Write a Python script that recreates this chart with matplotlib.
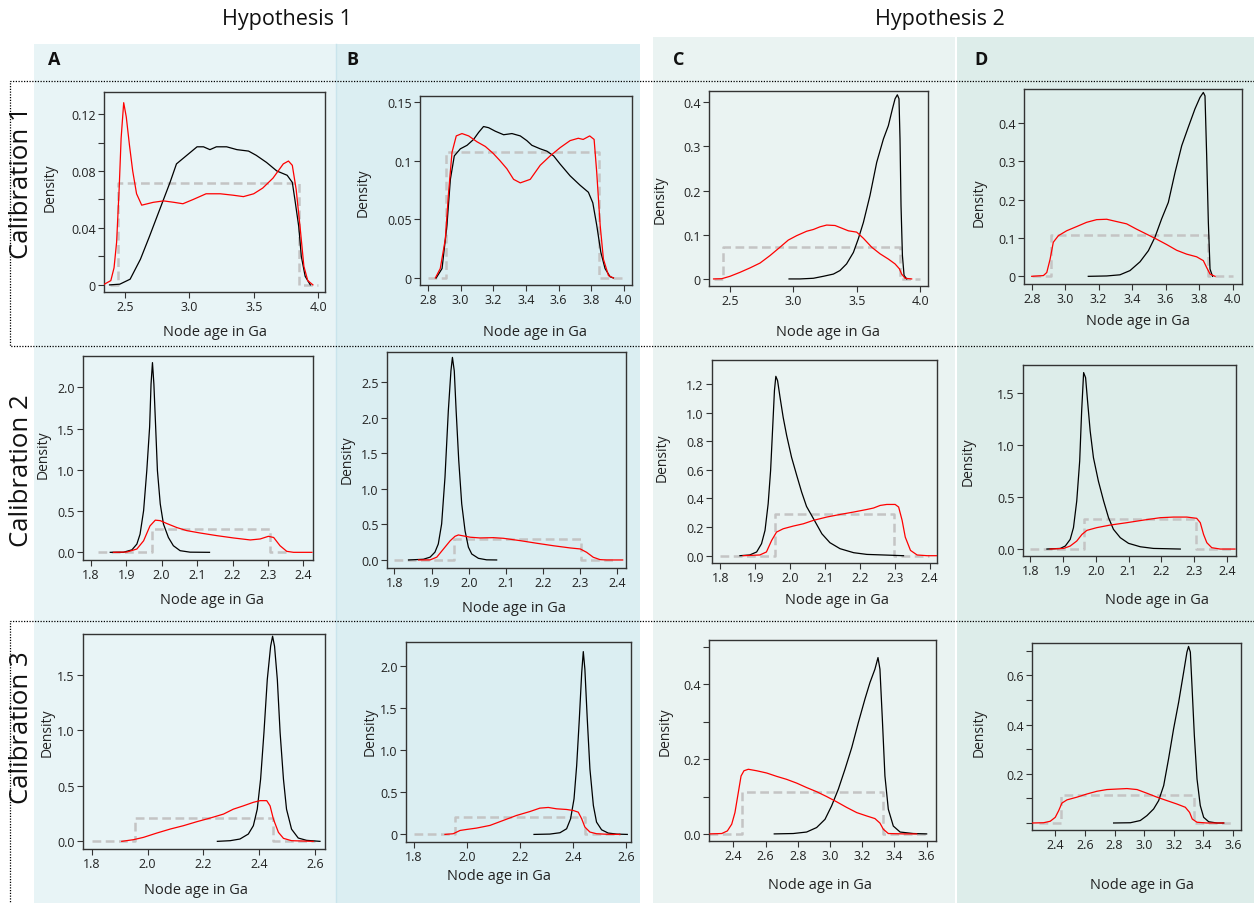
import matplotlib
matplotlib.use('Agg')
import matplotlib.pyplot as plt
from matplotlib.patches import Rectangle
from matplotlib.lines import Line2D

plt.rcParams['font.family'] = ['Open Sans', 'DejaVu Sans']

# ---------------- DATA ----------------
# Row 1 : Calibration 1
a1_black = [(2.38,0),(2.46,0.0005),(2.54,0.004),(2.62,0.018),(2.69,0.034),(2.77,0.053),(2.85,0.072),(2.90,0.085),(2.98,0.091),(3.06,0.097),(3.11,0.097),(3.16,0.095),(3.21,0.097),(3.29,0.097),(3.37,0.095),(3.46,0.094),(3.52,0.091),(3.60,0.086),(3.68,0.080),(3.76,0.077),(3.80,0.072),(3.82,0.060),(3.85,0.041),(3.87,0.020),(3.90,0.006),(3.94,0)]
a1_red = [(2.33,0),(2.39,0.003),(2.415,0.012),(2.435,0.03),(2.455,0.068),(2.47,0.103),(2.49,0.128),(2.51,0.118),(2.535,0.098),(2.56,0.08),(2.59,0.064),(2.63,0.056),(2.72,0.058),(2.80,0.059),(2.88,0.058),(2.95,0.057),(3.03,0.060),(3.13,0.064),(3.24,0.064),(3.34,0.063),(3.42,0.062),(3.50,0.064),(3.57,0.068),(3.65,0.075),(3.73,0.085),(3.77,0.087),(3.80,0.084),(3.83,0.067),(3.86,0.041),(3.89,0.013),(3.92,0.003),(3.96,0)]
a1_gray = [(2.38,0),(2.445,0),(2.445,0.0715),(3.855,0.0715),(3.855,0),(4.0,0)]

b1_black = [(2.85,0),(2.886,0.008),(2.916,0.045),(2.937,0.084),(2.961,0.104),(2.998,0.110),(3.039,0.113),(3.079,0.118),(3.11,0.124),(3.14,0.129),(3.171,0.128),(3.212,0.125),(3.263,0.122),(3.314,0.123),(3.365,0.121),(3.405,0.117),(3.436,0.113),(3.487,0.110),(3.528,0.108),(3.569,0.104),(3.609,0.097),(3.67,0.087),(3.731,0.079),(3.782,0.073),(3.809,0.064),(3.833,0.045),(3.858,0.022),(3.884,0.008),(3.915,0.001),(3.935,0)]
b1_red = [(2.845,0),(2.875,0.008),(2.906,0.033),(2.926,0.073),(2.947,0.107),(2.973,0.121),(3.008,0.123),(3.049,0.121),(3.10,0.116),(3.151,0.112),(3.20,0.106),(3.24,0.100),(3.283,0.093),(3.324,0.084),(3.365,0.081),(3.426,0.084),(3.487,0.096),(3.548,0.104),(3.609,0.111),(3.67,0.117),(3.72,0.119),(3.75,0.118),(3.79,0.121),(3.817,0.118),(3.833,0.090),(3.854,0.045),(3.874,0.016),(3.905,0.002),(3.935,0)]
b1_gray = [(2.8,0),(2.91,0),(2.91,0.107),(3.848,0.107),(3.848,0),(4.0,0)]

c1_black = [(2.966,0),(3.053,0),(3.158,0.0015),(3.237,0.006),(3.316,0.011),(3.368,0.019),(3.42,0.034),(3.474,0.060),(3.513,0.091),(3.553,0.128),(3.605,0.189),(3.658,0.264),(3.711,0.317),(3.75,0.347),(3.782,0.385),(3.803,0.408),(3.821,0.417),(3.834,0.408),(3.842,0.317),(3.85,0.166),(3.861,0.053),(3.874,0.008),(3.895,0)]
c1_red = [(2.37,0),(2.434,0.0005),(2.5,0.006),(2.579,0.015),(2.658,0.025),(2.737,0.036),(2.816,0.053),(2.895,0.072),(2.96,0.088),(3.026,0.098),(3.105,0.108),(3.158,0.112),(3.21,0.118),(3.263,0.122),(3.329,0.121),(3.382,0.115),(3.434,0.109),(3.5,0.106),(3.553,0.092),(3.618,0.072),(3.684,0.057),(3.75,0.045),(3.803,0.034),(3.837,0.023),(3.855,0.011),(3.882,0.0015),(3.934,0)]
c1_gray = [(2.37,0),(2.447,0),(2.447,0.0717),(3.842,0.0717),(3.842,0),(4.0,0)]

d1_black = [(3.138,0),(3.248,0.001),(3.327,0.004),(3.387,0.015),(3.447,0.038),(3.497,0.067),(3.536,0.102),(3.576,0.150),(3.616,0.193),(3.656,0.271),(3.696,0.341),(3.735,0.389),(3.775,0.437),(3.805,0.467),(3.825,0.48),(3.835,0.471),(3.845,0.315),(3.855,0.141),(3.865,0.019),(3.88,0)]
d1_red = [(2.8,0),(2.87,0.002),(2.89,0.01),(2.91,0.045),(2.929,0.089),(2.959,0.106),(3.009,0.119),(3.069,0.130),(3.128,0.141),(3.188,0.148),(3.248,0.149),(3.307,0.143),(3.367,0.137),(3.427,0.123),(3.487,0.110),(3.546,0.097),(3.606,0.083),(3.666,0.068),(3.725,0.058),(3.785,0.051),(3.825,0.041),(3.845,0.023),(3.865,0.006),(3.895,0)]
d1_gray = [(2.8,0),(2.915,0),(2.915,0.109),(3.85,0.109),(3.85,0),(4.0,0)]

# Row 2 : Calibration 2
a2_black = [(1.855,0),(1.892,0.001),(1.916,0.03),(1.93,0.10),(1.939,0.22),(1.949,0.505),(1.958,0.99),(1.966,1.52),(1.970,2.04),(1.974,2.30),(1.978,2.04),(1.983,1.52),(1.988,0.99),(1.996,0.586),(2.005,0.343),(2.019,0.18),(2.033,0.08),(2.052,0.02),(2.08,0.002),(2.135,0)]
a2_red = [(1.864,0),(1.902,0.004),(1.93,0.04),(1.949,0.14),(1.967,0.32),(1.982,0.39),(1.996,0.384),(2.014,0.35),(2.043,0.30),(2.071,0.263),(2.109,0.234),(2.156,0.202),(2.203,0.174),(2.25,0.15),(2.278,0.162),(2.301,0.194),(2.316,0.18),(2.334,0.08),(2.353,0.012),(2.372,0),(2.424,0)]
a2_gray = [(1.819,0),(1.974,0),(1.974,0.283),(2.306,0.283),(2.306,0),(2.363,0)]

b2_black = [(1.838,0),(1.878,0.01),(1.896,0.04),(1.909,0.11),(1.918,0.225),(1.927,0.507),(1.936,1.163),(1.945,2.10),(1.952,2.66),(1.956,2.85),(1.961,2.66),(1.966,2.10),(1.973,1.40),(1.981,0.79),(1.99,0.41),(1.999,0.18),(2.008,0.084),(2.026,0.023),(2.048,0.002),(2.075,0)]
b2_red = [(1.865,0),(1.896,0.001),(1.914,0.04),(1.932,0.155),(1.95,0.27),(1.963,0.333),(1.972,0.352),(1.986,0.338),(2.004,0.32),(2.03,0.31),(2.066,0.314),(2.093,0.305),(2.138,0.272),(2.183,0.235),(2.228,0.20),(2.273,0.169),(2.3,0.155),(2.317,0.108),(2.335,0.038),(2.353,0.005),(2.371,0),(2.414,0)]
b2_gray = [(1.8,0),(1.959,0),(1.959,0.295),(2.301,0.295),(2.301,0),(2.389,0)]

c2_black = [(1.856,0),(1.884,0.005),(1.904,0.026),(1.918,0.084),(1.928,0.177),(1.937,0.363),(1.944,0.595),(1.95,0.898),(1.955,1.153),(1.959,1.253),(1.964,1.223),(1.971,1.107),(1.98,0.967),(1.99,0.84),(2.004,0.688),(2.019,0.56),(2.033,0.444),(2.047,0.344),(2.067,0.258),(2.091,0.153),(2.114,0.091),(2.143,0.049),(2.182,0.021),(2.22,0.009),(2.268,0.005),(2.325,0)]
c2_red = [(1.865,0),(1.913,0.005),(1.932,0.026),(1.947,0.107),(1.961,0.165),(1.98,0.188),(2.009,0.207),(2.038,0.223),(2.067,0.247),(2.105,0.27),(2.143,0.288),(2.182,0.305),(2.22,0.323),(2.239,0.333),(2.258,0.351),(2.277,0.358),(2.301,0.358),(2.311,0.34),(2.321,0.247),(2.33,0.13),(2.345,0.037),(2.364,0.005),(2.393,0),(2.421,0)]
c2_gray = [(1.8,0),(1.956,0),(1.956,0.293),(2.297,0.293),(2.297,0),(2.397,0)]

d2_black = [(1.851,0),(1.892,0.006),(1.907,0.029),(1.922,0.093),(1.932,0.206),(1.942,0.463),(1.951,0.848),(1.957,1.33),(1.963,1.70),(1.969,1.651),(1.975,1.426),(1.983,1.137),(1.993,0.88),(2.008,0.655),(2.024,0.463),(2.039,0.302),(2.054,0.19),(2.075,0.109),(2.1,0.055),(2.136,0.022),(2.176,0.006),(2.258,0)]
d2_red = [(1.861,0),(1.902,0.006),(1.922,0.029),(1.942,0.077),(1.958,0.141),(1.973,0.18),(2.003,0.206),(2.044,0.231),(2.095,0.254),(2.146,0.279),(2.197,0.302),(2.237,0.308),(2.278,0.308),(2.308,0.296),(2.319,0.254),(2.329,0.141),(2.339,0.061),(2.354,0.013),(2.38,0),(2.425,0)]
d2_gray = [(1.8,0),(1.963,0),(1.963,0.292),(2.306,0.292),(2.306,0),(2.42,0)]

# Row 3 : Calibration 3
a3_black = [(2.25,0),(2.296,0.006),(2.331,0.021),(2.361,0.066),(2.379,0.141),(2.393,0.29),(2.405,0.56),(2.417,0.98),(2.429,1.46),(2.441,1.76),(2.448,1.85),(2.455,1.76),(2.465,1.46),(2.475,0.98),(2.487,0.56),(2.498,0.29),(2.516,0.11),(2.54,0.03),(2.57,0.009),(2.618,0)]
a3_red = [(1.907,0),(1.949,0.015),(1.985,0.036),(2.033,0.075),(2.081,0.111),(2.128,0.141),(2.176,0.177),(2.224,0.21),(2.272,0.246),(2.307,0.29),(2.343,0.32),(2.379,0.352),(2.403,0.367),(2.427,0.367),(2.439,0.32),(2.451,0.20),(2.469,0.081),(2.487,0.027),(2.516,0.006),(2.594,0)]
a3_gray = [(1.8,0),(1.955,0),(1.955,0.207),(2.448,0.207),(2.448,0),(2.6,0)]

b3_black = [(2.253,0),(2.313,0.004),(2.351,0.02),(2.376,0.067),(2.391,0.185),(2.404,0.422),(2.414,0.817),(2.424,1.369),(2.433,1.921),(2.439,2.17),(2.445,1.96),(2.454,1.369),(2.464,0.777),(2.477,0.343),(2.489,0.146),(2.508,0.055),(2.533,0.016),(2.565,0.004),(2.605,0)]
b3_red = [(1.917,0),(1.948,0.008),(1.974,0.047),(1.999,0.059),(2.036,0.075),(2.087,0.107),(2.137,0.166),(2.187,0.225),(2.238,0.272),(2.275,0.312),(2.307,0.32),(2.338,0.304),(2.376,0.296),(2.401,0.284),(2.42,0.264),(2.433,0.185),(2.445,0.087),(2.464,0.028),(2.489,0.008),(2.527,0.002),(2.577,0)]
b3_gray = [(1.8,0),(1.955,0),(1.955,0.205),(2.445,0.205),(2.445,0),(2.577,0)]

c3_black = [(2.654,0),(2.772,0.001),(2.855,0.005),(2.917,0.017),(2.969,0.039),(3.01,0.075),(3.052,0.12),(3.093,0.173),(3.135,0.231),(3.176,0.298),(3.217,0.361),(3.248,0.405),(3.279,0.441),(3.298,0.472),(3.31,0.441),(3.325,0.307),(3.341,0.155),(3.362,0.066),(3.393,0.021),(3.435,0.005),(3.517,0.001),(3.6,0)]
c3_red = [(2.255,0),(2.328,0.001),(2.363,0.008),(2.39,0.026),(2.41,0.057),(2.431,0.111),(2.448,0.155),(2.466,0.169),(2.493,0.173),(2.545,0.169),(2.607,0.163),(2.669,0.154),(2.731,0.146),(2.793,0.136),(2.855,0.124),(2.917,0.113),(2.979,0.10),(3.041,0.086),(3.103,0.071),(3.166,0.057),(3.228,0.048),(3.279,0.041),(3.31,0.029),(3.331,0.0125),(3.362,0.001),(3.455,0),(3.538,0)]
c3_gray = [(2.25,0),(2.452,0),(2.452,0.113),(3.331,0.113),(3.331,0),(3.604,0)]

d3_black = [(2.794,0),(2.907,0.001),(2.974,0.01),(3.019,0.03),(3.064,0.057),(3.098,0.091),(3.132,0.152),(3.165,0.261),(3.199,0.383),(3.233,0.491),(3.267,0.614),(3.289,0.695),(3.3,0.718),(3.312,0.695),(3.323,0.559),(3.339,0.356),(3.357,0.179),(3.379,0.071),(3.402,0.023),(3.436,0.005),(3.492,0),(3.537,0)]
d3_red = [(2.242,0),(2.321,0.001),(2.366,0.007),(2.4,0.023),(2.423,0.05),(2.445,0.081),(2.479,0.094),(2.546,0.105),(2.614,0.118),(2.681,0.129),(2.749,0.136),(2.816,0.138),(2.884,0.14),(2.952,0.136),(3.019,0.121),(3.087,0.105),(3.154,0.091),(3.222,0.077),(3.278,0.064),(3.307,0.043),(3.325,0.016),(3.357,0.003),(3.424,0),(3.537,0)]
d3_gray = [(2.287,0),(2.44,0),(2.44,0.115),(3.334,0.115),(3.334,0),(3.6,0)]

# Tick values / labels
xt_r1_a = [2.5, 3.0, 3.5, 4.0]
xt_r1_b = [2.8, 3.0, 3.2, 3.4, 3.6, 3.8, 4.0]
xt_r2 = [1.8, 1.9, 2.0, 2.1, 2.2, 2.3, 2.4]
xt_r3_a = [1.8, 2.0, 2.2, 2.4, 2.6]
xt_r3_c = [2.4, 2.6, 2.8, 3.0, 3.2, 3.4, 3.6]

yt_a1 = [0, 0.04, 0.08, 0.12]; yl_a1 = ['0', '0.04', '0.08', '0.12']; ym_a1 = [0.02, 0.06, 0.10]
yt_b1 = [0, 0.05, 0.1, 0.15]; yl_b1 = ['0', '0.05', '0.1', '0.15']
yt_c1 = [0, 0.1, 0.2, 0.3, 0.4]; yl_c1 = ['0', '0.1', '0.2', '0.3', '0.4']
yt_a2 = [0, 0.5, 1.0, 1.5, 2.0]; yl_a2 = ['0.0', '0.5', '1.0', '1.5', '2.0']
yt_b2 = [0, 0.5, 1.0, 1.5, 2.0, 2.5]; yl_b2 = ['0.0', '0.5', '1.0', '1.5', '2.0', '2.5']
yt_c2 = [0, 0.2, 0.4, 0.6, 0.8, 1.0, 1.2]; yl_c2 = ['0.0', '0.2', '0.4', '0.6', '0.8', '1.0', '1.2']
yt_d2 = [0, 0.5, 1.0, 1.5]; yl_d2 = ['0.0', '0.5', '1.0', '1.5']
yt_b3 = [0, 0.5, 1.0, 1.5, 2.0]; yl_b3 = ['0', '0.5', '1.0', '1.5', '2.0']
yt_c3 = [0, 0.2, 0.4]; yl_c3 = ['0.0', '0.2', '0.4']; ym_c3 = [0.1, 0.3, 0.5]
yt_d3 = [0.2, 0.4, 0.6]; yl_d3 = ['0.2', '0.4', '0.6']; ym_d3 = [0, 0.1, 0.3, 0.5, 0.7]

col_titles = ['Hypothesis 1', 'Hypothesis 2']
panel_letters = ['A', 'B', 'C', 'D']
row_titles = ['Calibration 1', 'Calibration 2', 'Calibration 3']
xlabel_text = 'Node age in Ga'
ylabel_text = 'Density'

# ---------------- LAYOUT ----------------
W, H = 1254, 904
fig = plt.figure(figsize=(W / 100, H / 100), dpi=100)
fig.patch.set_facecolor('white')

def fx(px):
    return px / W

def fy(py):
    return 1 - py / H

# column background bands
bands = [(34, 45, 336, '#e8f4f6'), (337, 45, 640, '#dbeef2'),
         (653, 38, 955, '#eaf3f2'), (957, 38, 1254, '#ddedea')]
for x0, y0, x1, col in bands:
    fig.patches.append(Rectangle((fx(x0), 0), fx(x1) - fx(x0), fy(y0), transform=fig.transFigure,
                                 facecolor=col, edgecolor='none', zorder=-10))
fig.lines.append(Line2D([fx(336), fx(336)], [0, fy(45)], transform=fig.transFigure, color='#c9e4ec', lw=1, zorder=-9))

# dotted calibration boxes
dot = dict(transform=fig.transFigure, color='black', lw=0.9, linestyle=(0, (1, 1.2)))
fig.lines.append(Line2D([fx(1254), fx(10), fx(10), fx(1254)], [fy(82), fy(82), fy(347), fy(347)], **dot))
fig.lines.append(Line2D([fx(1254), fx(10), fx(10)], [fy(622), fy(622), fy(904)], **dot))

# headers
fig.text(fx(287), fy(19), col_titles[0], ha='center', va='center', fontsize=15.5, color='#111')
fig.text(fx(940), fy(19), col_titles[1], ha='center', va='center', fontsize=15.5, color='#111')
for (px, py), letter in zip([(54, 60), (352, 60), (679, 60), (981, 60)], panel_letters):
    fig.text(fx(px), fy(py), letter, ha='center', va='center', fontsize=13, fontweight='bold', color='#111')
for py, t in zip([183, 471, 728], row_titles):
    fig.text(fx(22), fy(py), t, ha='center', va='center', rotation=90, fontsize=18.5, color='#111')

panels = [
    # black, red, gray, box(l,t,r,b), xlim, ylim, xticks, yticks, ylabels, yminor, ylab pos, xlab pos
    (a1_black, a1_red, a1_gray, (104, 93, 325, 293), (2.337, 4.054), (-0.005, 0.1355), xt_r1_a, yt_a1, yl_a1, ym_a1, (50, 188), (215, 332)),
    (b1_black, b1_red, b1_gray, (420, 97, 632, 286), (2.751, 4.049), (-0.006, 0.155), xt_r1_b, yt_b1, yl_b1, [], (363, 193), (535, 332)),
    (c1_black, c1_red, c1_gray, (709, 92, 928, 287), (2.334, 4.063), (-0.016, 0.4256), xt_r1_a, yt_c1, yl_c1, [], (660, 200), (828, 332)),
    (d1_black, d1_red, d1_gray, (1024, 90, 1242, 285), (2.754, 4.056), (-0.020, 0.489), xt_r1_b, yt_c1, yl_c1, [], (979, 203), (1138, 322)),
    (a2_black, a2_red, a2_gray, (83, 357, 313, 561), (1.778, 2.427), (-0.093, 2.38), xt_r2, yt_a2, yl_a2, [], (43, 455), (212, 600)),
    (b2_black, b2_red, b2_gray, (387, 353, 626, 569), (1.78, 2.423), (-0.113, 2.926), xt_r2, yt_b2, yl_b2, [], (347, 460), (514, 608)),
    (c2_black, c2_red, c2_gray, (712, 361, 937, 564), (1.776, 2.421), (-0.051, 1.367), xt_r2, yt_c2, yl_c2, [], (662, 458), (837, 601)),
    (d2_black, d2_red, d2_gray, (1023, 366, 1236, 557), (1.778, 2.428), (-0.067, 1.773), xt_r2, yt_d2, yl_d2, [], (968, 462), (1157, 601)),
    (a3_black, a3_red, a3_gray, (83, 635, 325, 850), (1.768, 2.636), (-0.069, 1.87), xt_r3_a, yt_d2, yl_d2, [], (47, 733), (196, 891)),
    (b3_black, b3_red, b3_gray, (406, 643, 631, 843), (1.77, 2.619), (-0.09, 2.284), xt_r3_a, yt_b3, yl_b3, [], (370, 732), (499, 877)),
    (c3_black, c3_red, c3_gray, (709, 641, 936, 842), (2.249, 3.658), (-0.019, 0.519), xt_r3_c, yt_c3, yl_c3, ym_c3, (665, 732), (820, 886)),
    (d3_black, d3_red, d3_gray, (1032, 644, 1241, 831), (2.243, 3.654), (-0.0285, 0.732), xt_r3_c, yt_d3, yl_d3, ym_d3, (979, 733), (1142, 886)),
]

for blk, red, gry, (l, t, r, b), xlim, ylim, xt, yt, yl, ym, ylp, xlp in panels:
    ax = fig.add_axes([fx(l), fy(b), (r - l) / W, (b - t) / H])
    ax.set_facecolor('none')
    ax.plot([p[0] for p in gry], [p[1] for p in gry], color='#c4c4c4', lw=1.8, linestyle=(0, (3.5, 1.8)), zorder=2)
    ax.plot([p[0] for p in blk], [p[1] for p in blk], color='black', lw=0.9, zorder=3)
    ax.plot([p[0] for p in red], [p[1] for p in red], color='#ff0000', lw=0.9, zorder=4)
    ax.set_xlim(*xlim)
    ax.set_ylim(*ylim)
    ax.set_xticks(xt)
    ax.set_xticklabels([f'{v:.1f}' for v in xt])
    ax.set_yticks(yt)
    ax.set_yticklabels(yl)
    ax.set_yticks(ym, minor=True)
    ax.tick_params(which='both', direction='out', length=4, width=0.8, color='#333', labelsize=9,
                   labelcolor='#222', pad=2)
    for s in ax.spines.values():
        s.set_color('#333')
        s.set_linewidth(1.0)
    fig.text(fx(ylp[0]), fy(ylp[1]), ylabel_text, rotation=90, ha='center', va='center', fontsize=10, color='#222')
    fig.text(fx(xlp[0]), fy(xlp[1]), xlabel_text, ha='center', va='center', fontsize=10.5, color='#222')

fig.savefig('out.png', dpi=100, facecolor='white')
